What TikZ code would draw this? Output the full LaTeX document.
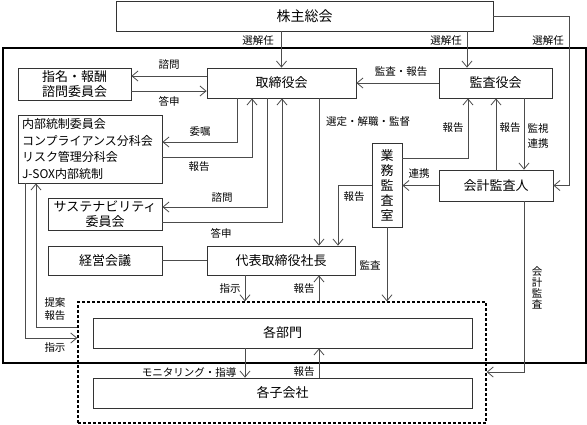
\documentclass[tikz,border=0pt]{standalone}
\usepackage{fontspec}
\setmainfont{Noto Sans CJK JP}
\usetikzlibrary{arrows.meta,calc}
\tikzset{
  box/.style={draw=black!80, line width=0.8pt, rectangle, inner sep=0pt, align=center,
    font=\fontsize{13}{15}\selectfont},
  arr/.style={draw=black!70, line width=0.8pt, -{Straight Barb[length=6pt,width=10pt]}},
  ln/.style={draw=black!70, line width=0.8pt},
  lbl/.style={inner sep=0pt, align=center, font=\fontsize{10.5}{15}\selectfont},
}
\begin{document}
\begin{tikzpicture}[x=1pt,y=-1pt]
\useasboundingbox (0,0) rectangle (587,424);
% outer frame
\draw[line width=1.4pt, black] (3,48) rectangle (586,363);
% boxes
\node[box, minimum width=377pt, minimum height=30pt, font=\fontsize{14}{16}\selectfont] (sh) at (304.5,16) {株主総会};
\node[box, minimum width=113pt, minimum height=32pt] (shimei) at (74.5,84) {指名・報酬\\諮問委員会};
\node[box, minimum width=149pt, minimum height=30pt] (tori) at (281.5,83) {取締役会};
\node[box, minimum width=113pt, minimum height=30pt] (kansa) at (495.5,83) {監査役会};
\node[box, minimum width=144pt, minimum height=68pt, text width=136pt, align=left,
  font=\fontsize{12}{16.7}\selectfont] (naibu) at (90,149) {内部統制委員会\\コンプライアンス分科会\\リスク管理分科会\\J-SOX内部統制};
\node[box, minimum width=114pt, minimum height=32pt] (sus) at (105,214) {サステナビリティ\\委員会};
\node[box, minimum width=114pt, minimum height=29pt] (keiei) at (105,260.5) {経営会議};
\node[box, minimum width=148pt, minimum height=29pt] (daihyo) at (281,260.5) {代表取締役社長};
\node[box, minimum width=30pt, minimum height=84pt] (gyomu) at (387,185) {業\\務\\監\\査\\室};
\node[box, minimum width=114pt, minimum height=31pt] (kaikei) at (496,185.5) {会計監査人};
\node[draw=black, line width=1.3pt, dash pattern=on 3pt off 2pt, rectangle, inner sep=0pt,
  minimum width=408pt, minimum height=121pt] (grp) at (282,362.5) {};
\node[box, minimum width=379pt, minimum height=30pt] (bumon) at (282.5,333) {各部門};
\node[box, minimum width=379pt, minimum height=30pt] (kogaisha) at (282.5,393) {各子会社};
% helper coordinates
\coordinate (kx) at (467,0);
\coordinate (y76) at (0,76);
\coordinate (y91) at (0,91);
\coordinate (p1) at (237,142);
\coordinate (p2) at (252,157);
\coordinate (p3) at (267,207);
\coordinate (p4) at (282,222);
\coordinate (p5) at (319,0);
\coordinate (p6) at (338,185);
\coordinate (p7) at (468,158);
\coordinate (p8) at (496,0);
\coordinate (p9) at (524,372);
\coordinate (p11) at (245,0);
\coordinate (p12) at (319,0);
\coordinate (p13) at (36,327);
\coordinate (p14) at (25,338);
% connectors
\draw[arr] (sh.south -| tori.north) -- (tori.north);
\draw[arr] (sh.south -| kx) -- (kansa.north -| kx);
\draw[arr] (sh.east) -| ($(kaikei.east)+(16,0)$) |- (kaikei.east);
\draw[arr] (kansa.west) -- (tori.east);
\draw[arr] (tori.west |- y76) -- (shimei.east |- y76);
\draw[arr] (shimei.east |- y91) -- (tori.west |- y91);
\draw[arr] (tori.south -| p1) |- (naibu.east |- p1);
\draw[arr] (naibu.east |- p2) -| (tori.south -| p2);
\draw[arr] (tori.south -| p3) |- (sus.east |- p3);
\draw[arr] (sus.east |- p4) -| (tori.south -| p4);
\draw[arr] (tori.south -| p5) -- (daihyo.north -| p5);
\draw[arr] (gyomu.west |- p6) -| (daihyo.north -| p6);
\draw[arr] (gyomu.east |- p7) -| (kansa.south -| p7);
\draw[arr] (kaikei.north -| p8) -- (kansa.south -| p8);
\draw[arr] (kansa.south -| p9) -- (kaikei.north -| p9);
\draw[arr] (kaikei.west) -- (gyomu.east |- kaikei.west);
\draw[arr] (kaikei.south -| p9) |- (grp.east |- p9);
\draw[arr] (gyomu.south) -- (grp.north -| gyomu.south);
\draw[ln] (keiei.east) -- (daihyo.west);
\draw[arr] (daihyo.south -| p11) -- (grp.north -| p11);
\draw[arr] (grp.north -| p12) -- (daihyo.south -| p12);
\draw[arr] (bumon.south -| p11) -- (kogaisha.north -| p11);
\draw[arr] (kogaisha.north -| p12) -- (bumon.south -| p12);
\draw[arr] (grp.west |- p13) -| (naibu.south -| p13);
\draw[arr] (naibu.south -| p14) |- (grp.west |- p14);
% labels
\node[lbl] (l1) at (258,41) {選解任};
\node[lbl] (l2) at (446,41) {選解任};
\node[lbl] (l3) at (548,41) {選解任};
\node[lbl] (l4) at (401,72) {監査・報告};
\node[lbl] (l5) at (169,65) {諮問};
\node[lbl] (l6) at (169,101) {答申};
\node[lbl] (l7) at (200,132) {委嘱};
\node[lbl] (l8) at (199,167) {報告};
\node[lbl] (l9) at (222,198) {諮問};
\node[lbl] (l10) at (221,233) {答申};
\node[lbl] (l11) at (368,122) {選定・解職・監督};
\node[lbl] (l12) at (453,128) {報告};
\node[lbl] (l13) at (510,128) {報告};
\node[lbl] (l14) at (538,136) {監視\\連携};
\node[lbl] (l15) at (419,174) {連携};
\node[lbl] (l16) at (354,197) {報告};
\node[lbl] (l17) at (370,265) {監査};
\node[lbl, font=\fontsize{10.5}{11}\selectfont] (l18) at (537,288) {会\\計\\監\\査};
\node[lbl] (l19) at (230,289) {指示};
\node[lbl] (l20) at (304,289) {報告};
\node[lbl] (l21) at (189,372) {モニタリング・指導};
\node[lbl] (l22) at (304,372) {報告};
\node[lbl, font=\fontsize{10.5}{13}\selectfont] (l23) at (55,309) {提案\\報告};
\node[lbl] (l24) at (55,348) {指示};
\end{tikzpicture}
\end{document}
